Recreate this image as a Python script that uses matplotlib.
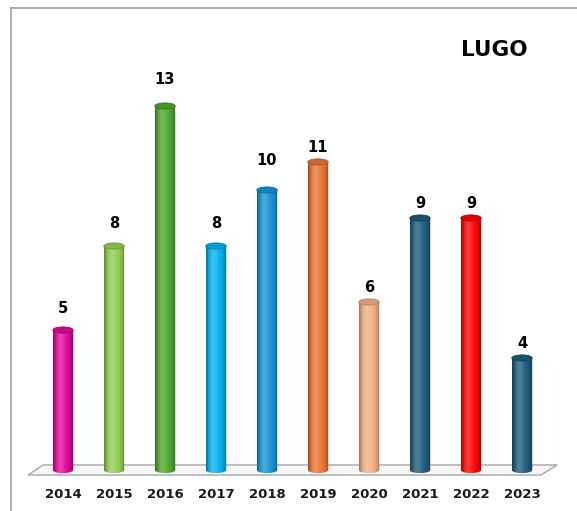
import numpy as np
import matplotlib.pyplot as plt
from matplotlib.patches import Ellipse, Polygon, PathPatch
from matplotlib.path import Path
from matplotlib.colors import to_rgb
from matplotlib.lines import Line2D

years = ['2014', '2015', '2016', '2017', '2018', '2019', '2020', '2021', '2022', '2023']
counts = [5, 8, 13, 8, 10, 11, 6, 9, 9, 4]
bar_colors = ['#e2069c', '#92d050', '#4ea72e', '#00b0f0', '#1495d4',
              '#ee7434', '#f4b183', '#1c5b7c', '#ff0000', '#1c5b7c']
title = 'LUGO'

# how far each value label sits above its bar top (pixels), as placed in the original
label_gap_px = [22, 23, 27, 23, 30, 15, 15, 15, 15, 15]

# pixel layout: first bar at x=63px, 51px apart, baseline at y=470px, 28px per unit
fig = plt.figure(figsize=(5.77, 5.11), dpi=100)
ax = fig.add_axes([0, 0, 1, 1])
ax.axis('off')
XL = (-63 / 51, 514 / 51)
YL = (-41 / 28, 470 / 28)

bw = 0.40   # cylinder width (x units)
eh = 0.22   # ellipse height (y units)


def shade(base, n=80):
    base = np.array(to_rgb(base))
    t = np.linspace(-1, 1, n)
    light = 0.22 * np.exp(-((t + 0.3) / 0.45) ** 2)
    dark = 0.38 * np.abs(t) ** 3
    rgb = base[None, :] * (1 - dark[:, None])
    rgb = rgb + (1 - rgb) * light[:, None]
    return np.clip(rgb, 0, 1)[None, :, :]


# floor plane
floor = Polygon([(-0.39, 0.18), (9.69, 0.18), (9.37, -0.18), (-0.69, -0.18)],
                closed=True, facecolor='#f7f7f7', edgecolor='#a8a8a8', lw=1.0, zorder=1)
ax.add_patch(floor)

for i, (v, c) in enumerate(zip(counts, bar_colors)):
    x0, x1 = i - bw / 2, i + bw / 2
    th = np.linspace(np.pi, 2 * np.pi, 30)
    arc = [(i + bw / 2 * np.cos(a), eh / 2 * np.sin(a)) for a in th]
    verts = [(x0, v)] + [(x0, 0)] + arc + [(x1, 0), (x1, v), (x0, v)]
    codes = [Path.MOVETO] + [Path.LINETO] * (len(verts) - 2) + [Path.CLOSEPOLY]
    body = PathPatch(Path(verts, codes), facecolor='none', edgecolor='none', zorder=2)
    ax.add_patch(body)
    im = ax.imshow(shade(c), extent=[x0, x1, -eh / 2, v], aspect='auto',
                   interpolation='bilinear', zorder=2)
    im.set_clip_path(body)
    base = np.array(to_rgb(c))
    ax.add_patch(Ellipse((i, v), bw, eh, facecolor=base * 0.88,
                         edgecolor=base * 0.72, lw=0.6, zorder=3))
    ax.annotate(str(v), (i, v), xytext=(0, label_gap_px[i] * 0.72), textcoords='offset points',
                ha='center', va='center', fontsize=10.5, fontweight='bold', zorder=4)
    ax.text(i, -0.86, years[i], ha='center', va='center', fontsize=9.5,
            fontweight='bold', color='#1a1a1a')

ax.text(8.45, 15.0, title, ha='center', va='center', fontsize=15.5, fontweight='bold')

ax.set_xlim(*XL)
ax.set_ylim(*YL)

# outer frame (left and top edges only)
fig.add_artist(Line2D([10.5 / 577, 10.5 / 577], [0, 1 - 8 / 511], color='#a0a0a0', lw=1.2))
fig.add_artist(Line2D([10.5 / 577, 1], [1 - 8 / 511, 1 - 8 / 511], color='#a0a0a0', lw=1.2))

fig.savefig('out.png', dpi=100)
